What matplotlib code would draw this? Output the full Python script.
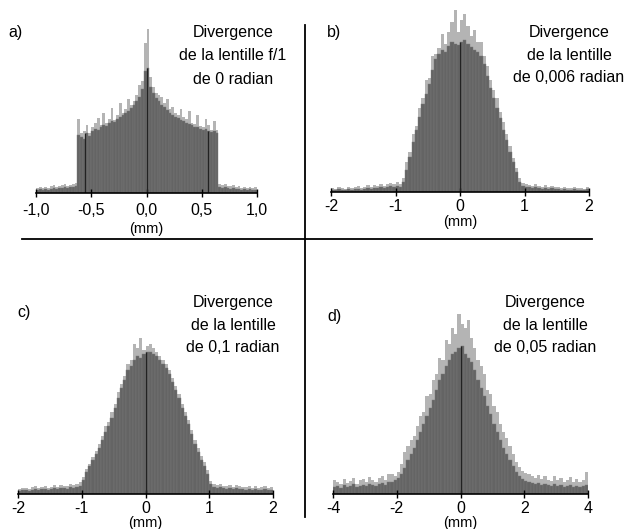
import matplotlib.pyplot as plt
from matplotlib.lines import Line2D
import numpy as np

plt.rcParams['font.family'] = ['Liberation Sans', 'DejaVu Sans']

# histogram heights (pixel-ish units), 80 bins per panel
a_dark = [3, 4, 3, 4, 3, 4, 5, 4, 5, 5, 6, 5, 6, 6, 7,
          58, 56, 54, 60, 57, 62, 64, 63, 66, 68, 67, 70, 72, 71, 74, 76, 78, 80, 82, 85, 88, 92, 96, 104, 122,
          125, 106, 100, 95, 92, 88, 86, 83, 80, 78, 76, 75, 73, 72, 70, 69, 68, 66, 66, 64, 63, 64, 62, 61, 62, 60,
          6, 5, 6, 5, 4, 5, 4, 4, 3, 4, 3, 4, 3, 3]
a_light = [5, 6, 5, 6, 5, 7, 8, 6, 7, 8, 9, 7, 8, 9, 10,
           74, 60, 62, 68, 60, 66, 70, 75, 68, 80, 70, 74, 85, 73, 78, 90, 80, 84, 94, 88, 92, 98, 108, 112, 150,
           164, 116, 106, 100, 98, 96, 90, 94, 84, 86, 80, 78, 84, 76, 74, 82, 70, 69, 78, 67, 66, 74, 68, 63, 72, 63,
           9, 8, 9, 7, 7, 8, 6, 7, 5, 6, 5, 6, 5, 6]

b_dark = [2, 2, 3, 2, 2, 3, 2, 3, 3, 2, 3, 4, 3, 4, 4, 5, 4, 5, 6, 5, 6, 5,
          10, 22, 35, 50, 62, 75, 88, 98, 108, 122, 133, 138, 142, 140, 146, 150, 148, 147,
          150, 152, 148, 145, 142, 140, 136, 128, 116, 104, 94, 84, 74, 62, 52, 40, 30, 20, 10, 6,
          5, 5, 4, 5, 4, 3, 4, 3, 4, 3, 3, 2, 3, 2, 2, 3, 2, 2, 2, 3]
b_light = [4, 3, 5, 4, 3, 5, 4, 5, 6, 4, 5, 7, 5, 7, 6, 8, 6, 8, 9, 8, 10, 8,
           14, 30, 40, 58, 66, 84, 94, 112, 114, 136, 138, 144, 158, 148, 160, 170, 182, 160,
           172, 178, 166, 156, 162, 150, 150, 136, 126, 112, 102, 94, 80, 70, 58, 46, 34, 24, 14, 9,
           8, 7, 6, 8, 6, 5, 7, 5, 6, 5, 5, 4, 5, 4, 4, 5, 4, 4, 3, 5]

c_dark = [3, 4, 4, 3, 4, 5, 4, 5, 5, 4, 5, 6, 5, 6, 6, 5, 7, 6, 7, 8,
          14, 22, 28, 34, 40, 46, 54, 62, 68, 76, 86, 96, 106, 114, 124, 128, 134, 138, 136, 140,
          142, 142, 140, 138, 134, 130, 126, 120, 112, 104, 96, 86, 78, 70, 60, 50, 42, 34, 28, 20, 10,
          7, 6, 7, 6, 5, 6, 5, 6, 5, 5, 4, 5, 4, 5, 4, 4, 5, 4, 4]
c_light = [5, 6, 6, 5, 7, 8, 6, 7, 8, 6, 7, 9, 7, 9, 8, 8, 10, 9, 10, 12,
           17, 25, 30, 37, 43, 50, 58, 68, 72, 82, 90, 102, 110, 118, 130, 134, 150, 146, 156, 144,
           148, 150, 146, 142, 138, 134, 130, 124, 116, 108, 100, 90, 82, 74, 64, 54, 46, 38, 32, 24, 13,
           10, 9, 10, 8, 8, 9, 7, 9, 8, 7, 7, 8, 6, 8, 6, 7, 8, 6, 7]

d_dark = [7, 8, 6, 9, 7, 8, 10, 7, 8, 9, 8, 10, 9, 8, 10, 11, 9, 12,
          12, 14, 16, 20, 26, 34, 40, 46, 54, 62, 70, 78, 86, 94, 104, 114, 120, 128, 134, 140, 142, 146,
          148, 140, 136, 132, 124, 114, 106, 98, 88, 80, 70, 62, 54, 46, 40, 34, 28, 22, 18, 15, 13,
          12, 11, 10, 11, 9, 10, 9, 8, 10, 8, 9, 7, 8, 9, 7, 8, 7, 8, 9]
d_light = [14, 12, 10, 15, 11, 13, 16, 10, 14, 15, 12, 17, 14, 12, 16, 18, 14, 20,
           20, 18, 22, 30, 42, 48, 54, 58, 68, 78, 82, 98, 100, 114, 120, 136, 134, 154, 150, 166, 160, 180,
           170, 166, 174, 156, 146, 134, 128, 120, 104, 100, 88, 82, 70, 62, 56, 48, 40, 32, 27, 23, 21,
           20, 18, 16, 19, 15, 18, 14, 13, 18, 14, 16, 12, 14, 17, 12, 15, 12, 14, 22]

a_ticks = [-1.0, -0.5, 0.0, 0.5, 1.0]
a_ticklabels = ['-1,0', '-0,5', '0,0', '0,5', '1,0']
bc_ticks = [-2, -1, 0, 1, 2]
d_ticks = [-4, -2, 0, 2, 4]

a_marks = [-0.555, 0.0, 0.555]

W, H = 624, 529
fig = plt.figure(figsize=(W / 100, H / 100), dpi=100)

dark_col = '#646464'
light_col = '#b4b4b4'


def panel(x0, x1, base, height, xlim, dark, light, ticks, ticklabels, marks, pad, labelpad):
    ax = fig.add_axes([x0 / W, (H - base) / H, (x1 - x0) / W, height / H])
    ax.patch.set_alpha(0)
    n = len(dark)
    edges = np.linspace(xlim[0], xlim[1], n + 1)
    centers = (edges[:-1] + edges[1:]) / 2
    w = edges[1] - edges[0]
    ax.bar(centers, light, width=w, color=light_col, linewidth=0)
    ax.bar(centers, dark, width=w, color=dark_col, edgecolor='#7a7a7a', linewidth=0.3)
    for m in marks:
        i = np.searchsorted(edges, m)
        top = max(dark[max(i - 1, 0)], dark[min(i, n - 1)])
        ax.vlines(m, 0, top, color='#222222', linewidth=0.9)
    ax.set_xlim(xlim)
    ax.set_ylim(0, height)
    for s in ['top', 'left', 'right']:
        ax.spines[s].set_visible(False)
    ax.spines['bottom'].set_linewidth(1.2)
    ax.set_yticks([])
    ax.set_xticks(ticks)
    ax.set_xticklabels(ticklabels)
    ax.tick_params(axis='x', direction='inout', length=6, width=1, labelsize=11.5, pad=pad)
    ax.set_xlabel('(mm)', fontsize=10.5, labelpad=labelpad)
    return ax


panel(36, 257, 193, 185, (-1, 1), a_dark, a_light, a_ticks, a_ticklabels, a_marks, 4, 3)
panel(331, 589, 192, 185, (-2, 2), b_dark, b_light, bc_ticks, [str(t) for t in bc_ticks], [0], 2, 1)
panel(18, 273, 494, 185, (-2, 2), c_dark, c_light, bc_ticks, [str(t) for t in bc_ticks], [0], 2, 0)
panel(333, 588, 494, 185, (-4, 4), d_dark, d_light, d_ticks, [str(t) for t in d_ticks], [0], 2, 0)


def ftext(x, y, s, size=11.5, **kw):
    fig.text(x / W, 1 - y / H, s, fontsize=size, va='center', **kw)


ftext(8, 33, 'a)', ha='left')
ftext(327, 33, 'b)', ha='left')
ftext(17, 313, 'c)', ha='left')
ftext(327, 317, 'd)', ha='left')

captions = [
    (233, [33, 56, 79], ['Divergence', 'de la lentille f/1', 'de 0 radian']),
    (569, [33, 55, 77], ['Divergence', 'de la lentille', 'de 0,006 radian']),
    (233, [303, 325, 347], ['Divergence', 'de la lentille', 'de 0,1 radian']),
    (545, [303, 325, 347], ['Divergence', 'de la lentille', 'de 0,05 radian']),
]
for cx, ys, lines in captions:
    for y, s in zip(ys, lines):
        ftext(cx, y, s, ha='center')

# dividing cross
fig.add_artist(Line2D([22 / W, 592 / W], [1 - 239 / H, 1 - 239 / H], color='black', linewidth=1.3))
fig.add_artist(Line2D([305 / W, 305 / W], [1 - 25 / H, 1 - 517 / H], color='black', linewidth=1.3))

fig.savefig('out.png', dpi=100)
